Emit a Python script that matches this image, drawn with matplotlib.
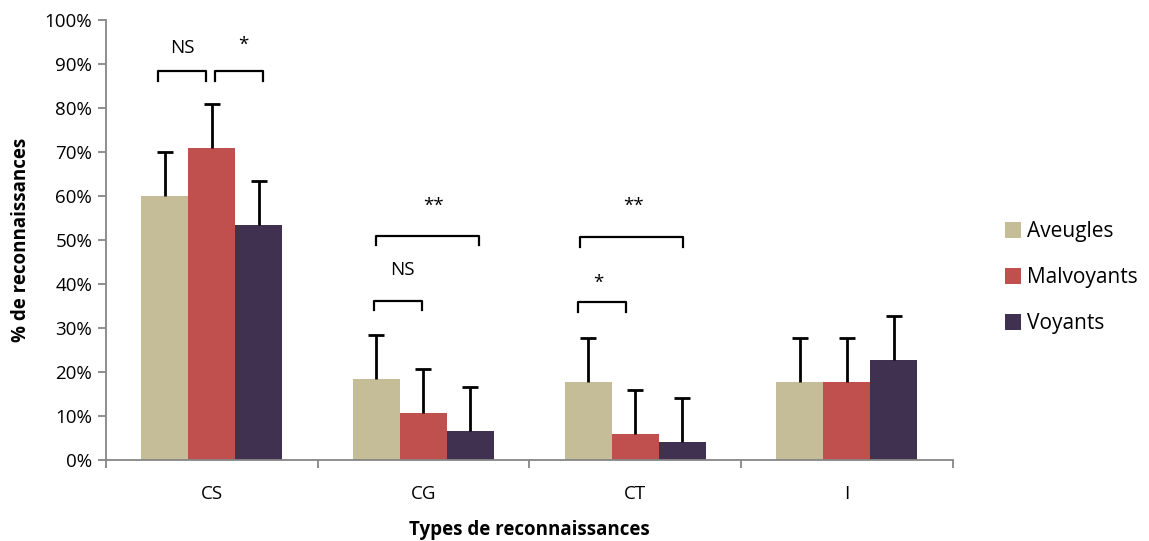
import matplotlib
matplotlib.use("Agg")
import matplotlib.pyplot as plt
import numpy as np

plt.rcParams['font.family'] = ['Open Sans', 'DejaVu Sans']

categories = ["CS", "CG", "CT", "I"]
series_names = ["Aveugles", "Malvoyants", "Voyants"]
aveugles = [60.0, 18.5, 17.8, 17.8]
malvoyants = [71.0, 10.7, 5.8, 17.8]
voyants = [53.5, 6.7, 4.1, 22.8]
aveugles_err = [10.0, 10.0, 10.0, 10.0]
malvoyants_err = [10.0, 10.0, 10.0, 10.0]
voyants_err = [10.0, 10.0, 10.0, 10.0]
colors = ["#C4BD97", "#C0504D", "#403151"]
yticks = list(range(0, 101, 10))

# significance annotations: (x_start, x_end, y, label, label_x, label_y)
sig_annotations = [
    (-0.254, -0.028, 88.4, "NS", -0.141, 93.6),
    (0.015, 0.241, 88.4, "*", 0.147, 94.3),
    (0.775, 1.262, 51.0, "**", 1.049, 57.8),
    (0.766, 0.992, 36.2, "NS", 0.898, 43.2),
    (1.739, 2.225, 50.6, "**", 1.994, 57.8),
    (1.729, 1.956, 35.9, "*", 1.828, 40.2),
]

fs = 13.5

fig = plt.figure(figsize=(11.49, 5.41), dpi=100)
ax = fig.add_axes([0.0923, 0.1497, 0.829 - 0.0923, 0.963 - 0.1497])

x = np.arange(len(categories))
w = 0.222
vals = [aveugles, malvoyants, voyants]
errs = [aveugles_err, malvoyants_err, voyants_err]
for i, (v, e, c, n) in enumerate(zip(vals, errs, colors, series_names)):
    pos = x + (i - 1) * w
    ax.bar(pos, v, width=w, color=c, label=n, zorder=2)
    eb = ax.errorbar(pos, v, yerr=[np.zeros(len(v)), e], fmt='none', ecolor='black',
                     elinewidth=2, capsize=6, capthick=2, zorder=3)
    caps = eb.lines[1]
    if len(caps) == 2:
        caps[0].set_visible(False)

for x0, x1, y, lab, lx, ly in sig_annotations:
    d = 2.2
    ax.plot([x0, x0, x1, x1], [y - d, y, y, y - d], color='black', lw=1.6,
            solid_joinstyle='round', zorder=4)
    ax.text(lx, ly, lab, ha='center', va='center', fontsize=fs, color='black')

ax.set_xlim(-0.5, 3.5)
ax.set_ylim(0, 100)
ax.set_yticks(yticks)
ax.set_yticklabels([f"{t}%" for t in yticks], fontsize=fs)
ax.set_xticks(x)
ax.set_xticklabels(categories, fontsize=fs)
ax.tick_params(axis='x', length=0, pad=18)
ax.set_xticks(np.arange(-0.5, 3.6, 1), minor=True)
ax.tick_params(axis='x', which='minor', length=6, color='#868686', width=1.3, direction='out')
ax.tick_params(axis='y', length=6, color='#868686', width=1.3, direction='out', pad=4)
for s in ['top', 'right']:
    ax.spines[s].set_visible(False)
for s in ['left', 'bottom']:
    ax.spines[s].set_color('#868686')
    ax.spines[s].set_linewidth(1.3)

ax.set_ylabel("% de reconnaissances", fontsize=fs, fontweight='bold', labelpad=10)
ax.set_xlabel("Types de reconnaissances", fontsize=fs, fontweight='bold', labelpad=12)

leg = ax.legend(loc='center left', bbox_to_anchor=(1.04, 0.414), frameon=False,
                fontsize=15, handlelength=0.75, handleheight=0.75, handletextpad=0.3,
                labelspacing=1.2)

fig.savefig("out.png", dpi=100)
